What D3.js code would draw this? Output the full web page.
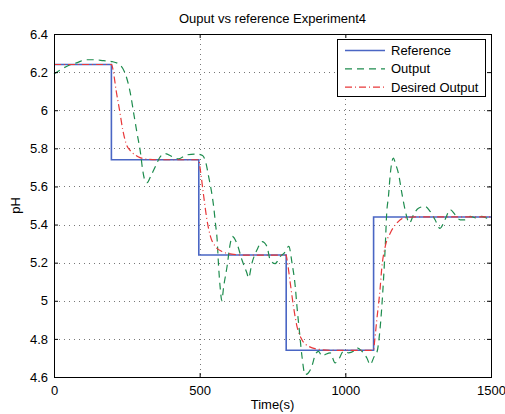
<!DOCTYPE html>
<html><head><meta charset="utf-8">
<script src="https://cdn.jsdelivr.net/npm/d3@7"></script>
<style>
html,body{margin:0;padding:0;background:#fff;}
svg{display:block;font-family:"Liberation Sans",Arial,Helvetica,sans-serif;}
</style></head>
<body><svg id="c" width="505" height="414"></svg>
<script>
// ---- data ----
const xTicks = [0, 500, 1000, 1500];
const yTicks = [4.6, 4.8, 5, 5.2, 5.4, 5.6, 5.8, 6, 6.2, 6.4];
const seriesNames = ["Reference", "Output", "Desired Output"];

const refTime  = [0, 197, 497, 797, 1097, 1500];
const refValue = [6.24, 5.74, 5.24, 4.74, 5.44, 5.44];

const outTime  = [0, 20, 50, 80, 110, 140, 170, 200, 225, 245, 262, 274, 285, 297, 304, 314, 320, 331, 348, 365, 382, 405, 428, 457, 491, 510, 522, 531, 542, 548, 554, 560, 565, 571, 576, 582, 594, 605, 612, 628, 645, 662, 668, 679, 697, 714, 731, 742, 759, 777, 790, 806, 817, 828, 834, 843, 851, 862, 872, 885, 897, 908, 920, 931, 948, 965, 976, 994, 1011, 1028, 1040, 1057, 1074, 1085, 1100, 1108, 1119, 1131, 1137, 1142, 1148, 1154, 1160, 1165, 1172, 1182, 1194, 1205, 1220, 1234, 1251, 1274, 1291, 1308, 1325, 1342, 1360, 1377, 1394, 1411, 1428, 1451, 1468, 1485, 1500];
const outValue = [6.19, 6.21, 6.235, 6.25, 6.265, 6.265, 6.26, 6.255, 6.24, 6.19, 6.09, 5.98, 5.88, 5.775, 5.69, 5.625, 5.62, 5.65, 5.705, 5.757, 5.772, 5.757, 5.745, 5.766, 5.77, 5.762, 5.72, 5.65, 5.56, 5.495, 5.408, 5.32, 5.18, 5.06, 5.0, 5.07, 5.18, 5.30, 5.338, 5.30, 5.215, 5.146, 5.12, 5.195, 5.268, 5.31, 5.285, 5.215, 5.195, 5.233, 5.25, 5.285, 5.198, 5.076, 4.97, 4.83, 4.71, 4.613, 4.62, 4.656, 4.718, 4.735, 4.71, 4.718, 4.727, 4.674, 4.69, 4.735, 4.727, 4.735, 4.753, 4.735, 4.70, 4.665, 4.71, 4.727, 4.85, 5.11, 5.285, 5.46, 5.547, 5.66, 5.73, 5.749, 5.72, 5.67, 5.565, 5.478, 5.408, 5.451, 5.486, 5.495, 5.469, 5.425, 5.38, 5.425, 5.478, 5.451, 5.425, 5.425, 5.443, 5.434, 5.443, 5.434, 5.43];

const desTime  = [0, 198, 204, 213, 225, 236, 247, 265, 287, 310, 350, 497, 502, 514, 525, 537, 554, 577, 610, 650, 797, 800, 811, 822, 834, 851, 874, 910, 950, 1097, 1100, 1108, 1119, 1125, 1137, 1154, 1177, 1199, 1240, 1500];
const desValue = [6.24, 6.24, 6.2, 6.106, 6.0, 5.897, 5.827, 5.783, 5.757, 5.745, 5.74, 5.74, 5.69, 5.547, 5.425, 5.338, 5.285, 5.259, 5.245, 5.24, 5.24, 5.215, 5.093, 4.97, 4.866, 4.796, 4.761, 4.745, 4.74, 4.74, 4.78, 4.90, 5.058, 5.17, 5.285, 5.355, 5.408, 5.434, 5.44, 5.44];

// ---- drawing ----
const svg = d3.select("#c");
const L = 54, R = 491, T = 34, B = 377;
const x = d3.scaleLinear().domain([0, 1500]).range([L, R]);
const y = d3.scaleLinear().domain([4.6, 6.4]).range([B, T]);

// grid
const g = svg.append("g");
g.selectAll("line.gx").data(xTicks.slice(1, -1)).enter().append("line")
  .attr("x1", d => Math.round(x(d)) + 0.5).attr("x2", d => Math.round(x(d)) + 0.5)
  .attr("y1", T).attr("y2", B)
  .attr("stroke", "#777").attr("stroke-width", 1).attr("stroke-dasharray", "1,4");
g.selectAll("line.gy").data(yTicks.slice(1, -1)).enter().append("line")
  .attr("y1", d => Math.round(y(d)) + 0.5).attr("y2", d => Math.round(y(d)) + 0.5)
  .attr("x1", L).attr("x2", R)
  .attr("stroke", "#777").attr("stroke-width", 1).attr("stroke-dasharray", "1,4");

// lines
const mk = (ts, vs) => ts.map((t, i) => [t, vs[i]]);
const lineStep = d3.line().x(d => x(d[0])).y(d => y(d[1])).curve(d3.curveStepAfter);
const line = d3.line().x(d => x(d[0])).y(d => y(d[1])).curve(d3.curveMonotoneX);

svg.append("path").datum(mk(refTime, refValue)).attr("d", lineStep)
  .attr("fill", "none").attr("stroke", "#4a66c4").attr("stroke-width", 1.6);
svg.append("path").datum(mk(outTime, outValue)).attr("d", line)
  .attr("fill", "none").attr("stroke", "#1e8c4e").attr("stroke-width", 1.2)
  .attr("stroke-dasharray", "7,5");
svg.append("path").datum(mk(desTime, desValue)).attr("d", line)
  .attr("fill", "none").attr("stroke", "#e8383a").attr("stroke-width", 1.2)
  .attr("stroke-dasharray", "7,3,1,3");

// axes
const fs = 13;
const ax = svg.append("g").attr("transform", `translate(0,${B})`)
  .call(d3.axisBottom(x).tickValues(xTicks).tickFormat(d3.format("d")).tickSizeInner(-4).tickSizeOuter(0).tickPadding(9));
const ay = svg.append("g").attr("transform", `translate(${L},0)`)
  .call(d3.axisLeft(y).tickValues(yTicks).tickFormat(d => String(d)).tickSizeInner(-4).tickSizeOuter(0).tickPadding(6));
const axT = svg.append("g").attr("transform", `translate(0,${T})`)
  .call(d3.axisTop(x).tickValues(xTicks).tickFormat("").tickSizeInner(-4).tickSizeOuter(0));
const ayR = svg.append("g").attr("transform", `translate(${R},0)`)
  .call(d3.axisRight(y).tickValues(yTicks).tickFormat("").tickSizeInner(-4).tickSizeOuter(0));
[ax, ay, axT, ayR].forEach(a => {
  a.select(".domain").remove();
  a.selectAll("text").attr("font-size", fs).attr("fill", "#000").attr("font-family", "Liberation Sans, Arial, sans-serif");
  a.selectAll("line").attr("stroke", "#000");
});

svg.append("rect").attr("x", L + 0.5).attr("y", T + 0.5).attr("width", R - L).attr("height", B - T)
  .attr("fill", "none").attr("stroke", "#000").attr("stroke-width", 1);

// title & labels
svg.append("text").attr("x", (L + R) / 2).attr("y", 23).attr("text-anchor", "middle")
  .attr("font-size", fs).text("Ouput vs reference Experiment4");
svg.append("text").attr("x", (L + R) / 2).attr("y", 409).attr("text-anchor", "middle")
  .attr("font-size", fs).text("Time(s)");
svg.append("text").attr("transform", `translate(20,${(T + B) / 2}) rotate(-90)`).attr("text-anchor", "middle")
  .attr("font-size", fs).text("pH");

// legend
const lg = svg.append("g");
lg.append("rect").attr("x", 337.5).attr("y", 39.5).attr("width", 148).attr("height", 57)
  .attr("fill", "#fff").attr("stroke", "#000").attr("stroke-width", 1);
const styles = [
  {c: "#4a66c4", w: 1.6, d: null},
  {c: "#1e8c4e", w: 1.2, d: "7,5"},
  {c: "#e8383a", w: 1.2, d: "7,3,1,3"}
];
seriesNames.forEach((n, i) => {
  const yy = 50.5 + i * 18.3;
  const ln = lg.append("line").attr("x1", 345).attr("x2", 385).attr("y1", yy).attr("y2", yy)
    .attr("stroke", styles[i].c).attr("stroke-width", styles[i].w);
  if (styles[i].d) ln.attr("stroke-dasharray", styles[i].d);
  lg.append("text").attr("x", 391).attr("y", yy).attr("dy", "0.35em").attr("font-size", fs).text(n);
});
</script></body></html>
